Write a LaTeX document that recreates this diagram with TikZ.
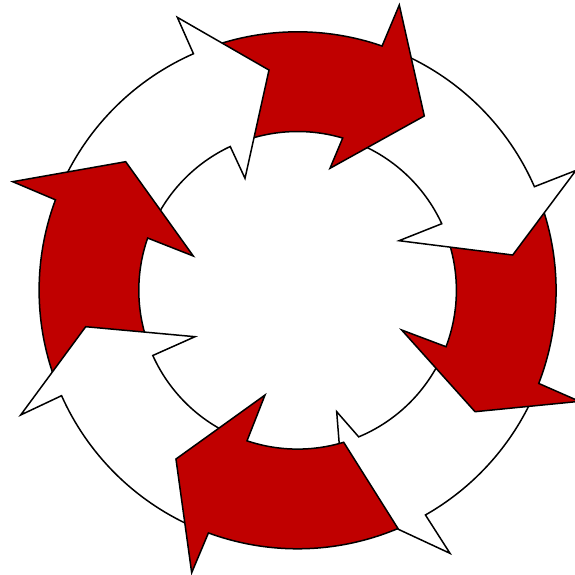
\documentclass[tikz,border=0pt]{standalone}
\usepackage{tikz}
\definecolor{ringred}{RGB}{192,0,0}
\def\Rout{258.5pt}
\def\Rin{158.8pt}
\tikzset{
  ringpiece/.style={draw=black, line width=1.5pt, line join=miter},
  redpiece/.style={ringpiece, fill=ringred},
  whitepiece/.style={ringpiece, fill=white}
}
% #1 style, #2 tail outer angle, #3 tail inner angle, #4 outer junction angle,
% #5 outer wing, #6 tip, #7 inner wing, #8 inner junction angle
\newcommand{\ringarrow}[8]{%
  \path[#1] (#2:\Rout) arc[start angle=#2, end angle=#4, radius=\Rout]
    -- (#5) -- (#6) -- (#7) -- (#8:\Rin)
    arc[start angle=#8, end angle=#3, radius=\Rin] -- cycle;}
\begin{document}
\begin{tikzpicture}
\useasboundingbox (-297.6pt,-283.7pt) rectangle (277.4pt,290.3pt);
\clip (-297.6pt,-283.7pt) rectangle (277.4pt,290.3pt);
% white, bottom right
\ringarrow{whitepiece}{-25.1}{-24.8}{-60.36}{-59.91:304pt}{-77.75:218.7pt}{-72.15:127.5pt}{-67.37}
% red, right
\ringarrow{redpiece}{19.6}{20.8}{-21.12}{-21.5:303pt}{-34.38:215pt}{-20.88:111.4pt}{-20.81}
% white, right
\ringarrow{whitepiece}{66.9}{69.5}{23.63}{23.3:303pt}{9.32:218pt}{26.06:112.9pt}{24.79}
% red, top
\ringarrow{redpiece}{109.8}{111.1}{70.92}{70.38:302.9pt}{53.99:215.5pt}{75.13:126.2pt}{73.5}
% white, top left
\ringarrow{whitepiece}{155.5}{156.8}{113.76}{113.78:298.3pt}{97.4:222.1pt}{115.16:123.7pt}{115.1}
% red, left
\ringarrow{redpiece}{200.1}{200.2}{159.51}{159.13:304.9pt}{143.2:214.7pt}{161.8:109.8pt}{160.78}
% white, bottom left
\ringarrow{whitepiece}{-114.2}{-112.6}{-155.94}{-155.76:303.7pt}{-170.25:215pt}{-155.67:112.6pt}{-155.76}
% red, bottom
\ringarrow{redpiece}{-67.15}{-73.13}{-110.18}{-110.56:301.6pt}{-125.79:208pt}{-107.29:109.7pt}{-108.58}
\end{tikzpicture}
\end{document}
